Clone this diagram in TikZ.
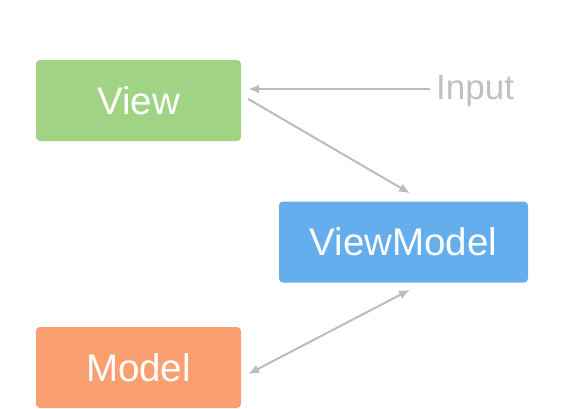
\documentclass[tikz,border=0pt]{standalone}
\usepackage{fontspec}
\setmainfont{Liberation Sans}
\usetikzlibrary{arrows.meta}
\definecolor{viewgreen}{RGB}{160,212,132}
\definecolor{vmblue}{RGB}{100,174,238}
\definecolor{modelorange}{RGB}{250,160,112}
\definecolor{arrowgray}{RGB}{186,188,192}
\definecolor{inputgray}{RGB}{190,192,196}
\tikzset{
  box/.style={rectangle, rounded corners=4pt, minimum height=81pt, inner sep=0pt,
    text=white, font=\fontsize{38.5}{42}\selectfont},
  conn/.style={draw=arrowgray, line width=2pt, -{Latex[length=11pt,width=9pt]}},
}
\begin{document}
\begin{tikzpicture}[x=1pt,y=-1pt]
\useasboundingbox (0,0) rectangle (567,408);
\clip (0,0) rectangle (567,408);
\node[box, fill=viewgreen, minimum width=205pt] (view) at (138.5,100.5) {View};
\node[box, fill=vmblue, minimum width=249pt] (vm) at (403.5,242) {ViewModel};
\node[box, fill=modelorange, minimum width=205pt] (model) at (138.5,367.5) {Model};
\node[anchor=west, inner sep=0pt, text=inputgray, font=\fontsize{35}{40}\selectfont] (input) at (436,91) {Input};
\draw[conn] ([shift={(-6,-2)}]input.west) -- ([shift={(7,-11.5)}]view.east);
\draw[conn] ([shift={(7,-1.5)}]view.east) -- ([shift={(6.5,-8)}]vm.north);
\draw[conn, {Latex[length=11pt,width=9pt]}-{Latex[length=11pt,width=9pt]}] ([shift={(7,6.5)}]model.east) -- ([shift={(6.5,7)}]vm.south);
\end{tikzpicture}
\end{document}
